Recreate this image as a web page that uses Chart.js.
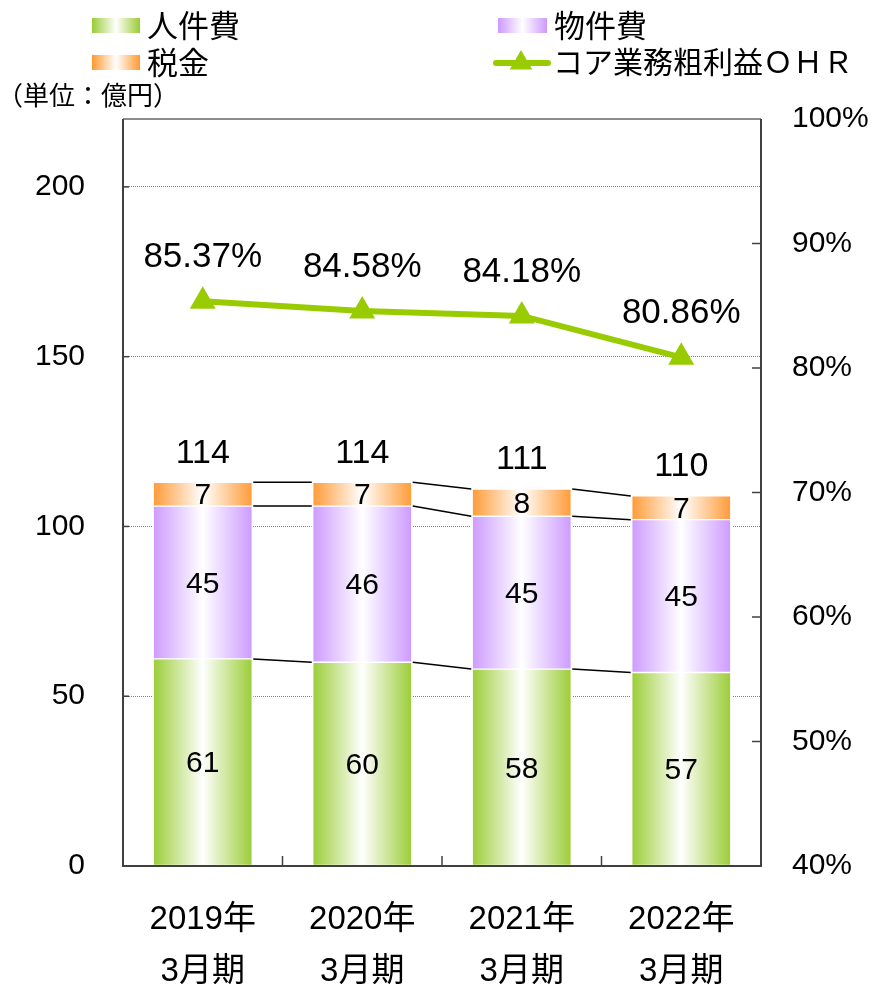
<!DOCTYPE html>
<html>
<head>
<meta charset="utf-8">
<script src="https://cdn.jsdelivr.net/npm/chart.js@4.4.0/dist/chart.umd.min.js"></script>
<style>
  html, body { margin: 0; padding: 0; background: #fff; }
  #wrap { width: 873px; height: 984px; }
</style>
</head>
<body>
<div id="wrap"><canvas id="ohrChart" width="873" height="984"></canvas></div>
<script>
// ---- data ----
const categories = [['2019年', '3月期'], ['2020年', '3月期'], ['2021年', '3月期'], ['2022年', '3月期']];
const personnel = [61, 60, 58, 57];      // 人件費
const property = [45, 46, 45, 45];       // 物件費
const taxes = [7, 7, 8, 7];              // 税金
const totalLabels = [114, 114, 111, 110];
const ohr = [85.37, 84.58, 84.18, 80.86]; // コア業務粗利益ＯＨＲ (%)
const leftTicks = [0, 50, 100, 150, 200];
const rightTicks = [40, 50, 60, 70, 80, 90, 100];

const GREEN = '#99cc33';
const PURPLE = '#cc99ff';
const ORANGE = '#ff9933';
const LINE_GREEN = '#99cc00';
const NUM_FONT = '"Liberation Sans", Arial, "Noto Sans CJK JP", sans-serif';
const JP_FONT = '"Noto Sans CJK JP", sans-serif';
const BAR_W = 101;

// horizontal colour -> white -> colour fill, per bar
function barFill(color) {
    return function(c) {
        const chart = c.chart;
        if (c.dataIndex === undefined || !chart.chartArea || !chart.scales.x) return color;
        const cx = chart.scales.x.getPixelForValue(c.dataIndex);
        const g = chart.ctx.createLinearGradient(cx - BAR_W / 2, 0, cx + BAR_W / 2, 0);
        g.addColorStop(0, color);
        g.addColorStop(0.5, '#ffffff');
        g.addColorStop(1, color);
        return g;
    };
}

function boxFill(ctx, color, x, y, w, h) {
    const g = ctx.createLinearGradient(x, 0, x + w, 0);
    g.addColorStop(0, color);
    g.addColorStop(0.5, '#ffffff');
    g.addColorStop(1, color);
    ctx.fillStyle = g;
    ctx.fillRect(x, y, w, h);
}

function triangle(ctx, x, y, r) {
    ctx.beginPath();
    ctx.moveTo(x, y - r);
    ctx.lineTo(x + r * Math.sin(Math.PI * 2 / 3), y - r * Math.cos(Math.PI * 2 / 3));
    ctx.lineTo(x + r * Math.sin(Math.PI * 4 / 3), y - r * Math.cos(Math.PI * 4 / 3));
    ctx.closePath();
    ctx.fill();
}

const overlay = {
    id: 'overlay',
    afterDatasetsDraw(chart) {
        const ctx = chart.ctx;
        const a = chart.chartArea;
        const x = chart.scales.x, y = chart.scales.y, y1 = chart.scales.y1;
        ctx.save();

        // series lines between stacked bars
        const stacks = [personnel, property, taxes];
        ctx.strokeStyle = '#000';
        ctx.lineWidth = 1.5;
        for (let i = 0; i < categories.length - 1; i++) {
            let c0 = 0, c1 = 0;
            stacks.forEach(s => {
                c0 += s[i];
                c1 += s[i + 1];
                ctx.beginPath();
                ctx.moveTo(x.getPixelForValue(i) + BAR_W / 2, y.getPixelForValue(c0));
                ctx.lineTo(x.getPixelForValue(i + 1) - BAR_W / 2, y.getPixelForValue(c1));
                ctx.stroke();
            });
        }

        // frame
        ctx.lineWidth = 2;
        ctx.strokeStyle = '#8c8c8c';
        ctx.beginPath(); ctx.moveTo(a.left, a.top); ctx.lineTo(a.right, a.top); ctx.stroke();
        ctx.strokeStyle = '#404040';
        ctx.beginPath();
        ctx.moveTo(a.left, a.top); ctx.lineTo(a.left, a.bottom); ctx.lineTo(a.right, a.bottom); ctx.lineTo(a.right, a.top);
        ctx.stroke();

        // inward tick marks
        ctx.lineWidth = 1.5;
        leftTicks.forEach(v => {
            if (v === 0) return;
            const py = y.getPixelForValue(v);
            ctx.beginPath(); ctx.moveTo(a.left, py); ctx.lineTo(a.left + 6, py); ctx.stroke();
        });
        rightTicks.forEach(v => {
            if (v === 40 || v === 100) return;
            const py = y1.getPixelForValue(v);
            ctx.beginPath(); ctx.moveTo(a.right, py); ctx.lineTo(a.right - 9, py); ctx.stroke();
        });
        for (let i = 0; i < categories.length - 1; i++) {
            const px = (x.getPixelForValue(i) + x.getPixelForValue(i + 1)) / 2;
            ctx.beginPath(); ctx.moveTo(px, a.bottom); ctx.lineTo(px, a.bottom - 10); ctx.stroke();
        }

        // segment labels
        ctx.fillStyle = '#000';
        ctx.textAlign = 'center';
        ctx.textBaseline = 'middle';
        ctx.font = '30px ' + NUM_FONT;
        [0, 1, 2].forEach(d => {
            const meta = chart.getDatasetMeta(d);
            meta.data.forEach((el, i) => {
                ctx.fillText(String(chart.data.datasets[d].data[i]), el.x, (el.y + el.base) / 2 + 2);
            });
        });

        // totals
        ctx.font = '34px ' + NUM_FONT;
        totalLabels.forEach((t, i) => {
            const sum = personnel[i] + property[i] + taxes[i];
            ctx.fillText(String(t), x.getPixelForValue(i), y.getPixelForValue(sum) - 29);
        });

        // OHR labels
        ctx.font = '35px ' + NUM_FONT;
        ohr.forEach((v, i) => {
            ctx.fillText(v.toFixed(2) + '%', x.getPixelForValue(i), y1.getPixelForValue(v) - 44);
        });
        ctx.restore();
    },
    afterDraw(chart) {
        const ctx = chart.ctx;
        ctx.save();
        ctx.fillStyle = '#000';
        ctx.textBaseline = 'middle';
        ctx.textAlign = 'left';

        boxFill(ctx, GREEN, 92, 18, 48, 15);
        boxFill(ctx, ORANGE, 92, 55, 48, 15);
        boxFill(ctx, PURPLE, 498, 18, 49, 15);

        ctx.strokeStyle = LINE_GREEN;
        ctx.lineWidth = 6;
        ctx.lineCap = 'round';
        ctx.beginPath(); ctx.moveTo(496, 63); ctx.lineTo(548, 63); ctx.stroke();
        ctx.fillStyle = LINE_GREEN;
        triangle(ctx, 521, 63, 13);

        ctx.fillStyle = '#000';
        ctx.font = '31px ' + JP_FONT;
        ctx.fillText('人件費', 147, 25);
        ctx.fillText('税金', 147, 62);
        ctx.fillText('物件費', 554, 25);
        ctx.font = '30px ' + JP_FONT;
        ctx.fillText('コア業務粗利益ＯＨＲ', 553, 62);
        ctx.font = '26px ' + JP_FONT;
        ctx.fillText('（単位：億円）', -3, 95);
        ctx.restore();
    }
};

new Chart(document.getElementById('ohrChart').getContext('2d'), {
    type: 'bar',
    data: {
        labels: categories,
        datasets: [
            { label: '人件費', data: personnel, backgroundColor: barFill(GREEN), order: 1 },
            { label: '物件費', data: property, backgroundColor: barFill(PURPLE), order: 1 },
            { label: '税金', data: taxes, backgroundColor: barFill(ORANGE), order: 1 },
            {
                type: 'line', label: 'コア業務粗利益ＯＨＲ', data: ohr, yAxisID: 'y1', order: 0,
                borderColor: LINE_GREEN, borderWidth: 6, tension: 0,
                pointStyle: 'triangle', pointRadius: 15, pointHoverRadius: 15,
                pointBackgroundColor: LINE_GREEN, pointBorderColor: LINE_GREEN, pointBorderWidth: 0
            }
        ]
    },
    options: {
        responsive: false,
        animation: false,
        layout: { padding: { top: 119, left: 0, right: 0, bottom: 0 } },
        datasets: {
            bar: {
                barThickness: BAR_W,
                borderColor: '#ffffff',
                borderWidth: { top: 1, bottom: 1, left: 2, right: 2 },
                borderSkipped: false
            }
        },
        plugins: { legend: { display: false }, tooltip: { enabled: false } },
        scales: {
            x: {
                stacked: true,
                grid: { display: false },
                border: { display: false },
                afterFit: s => { s.height = 118; },
                ticks: { padding: 20, color: '#000', font: { family: NUM_FONT, size: 33, lineHeight: 1.576 }, maxRotation: 0 }
            },
            y: {
                stacked: true,
                min: 0,
                max: 220,
                afterBuildTicks: s => { s.ticks = leftTicks.map(v => ({ value: v })); },
                afterFit: s => { s.width = 123; },
                grid: {
                    drawTicks: false,
                    color: c => (c.tick && c.tick.value === 0) ? 'rgba(0,0,0,0)' : '#7f7f7f',
                    lineWidth: 1
                },
                border: { display: false, dash: [1, 1] },
                ticks: { padding: 38, color: '#000', font: { family: NUM_FONT, size: 30 } }
            },
            y1: {
                position: 'right',
                min: 40,
                max: 100,
                afterBuildTicks: s => { s.ticks = rightTicks.map(v => ({ value: v })); },
                afterFit: s => { s.width = 112; },
                grid: { display: false, drawTicks: false },
                border: { display: false },
                ticks: { padding: 31, color: '#000', font: { family: NUM_FONT, size: 30 }, callback: v => v + '%' }
            }
        }
    },
    plugins: [overlay]
});
</script>
</body>
</html>
